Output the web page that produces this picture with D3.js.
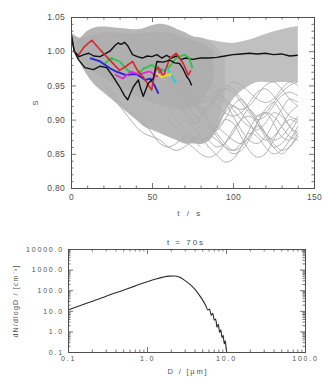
<!DOCTYPE html>
<html>
<head>
<meta charset="utf-8">
<script src="https://cdn.jsdelivr.net/npm/d3@7"></script>
<style>
  html, body { margin: 0; padding: 0; background: #fff; }
  svg { display: block; font-family: "Liberation Sans", Arial, sans-serif; }
</style>
</head>
<body>
<svg id="chart" width="322" height="378"></svg>
<script>
// ---------- top panel: saturation S vs time ----------
// dense cloud of ensemble trajectories (outer envelope)
const coreT = [0, 5, 10, 15, 20, 25, 30, 35, 40, 45, 50, 55, 60, 65, 70, 75, 80, 85, 90, 95];
const coreUpper = [1.028, 1.02, 1.03, 1.035, 1.036, 1.035, 1.034, 1.033, 1.032, 1.034, 1.038, 1.04, 1.038, 1.033, 1.028, 1.022, 1.02, 1.015, 1.005, 0.99];
const coreLower = [1.02, 0.985, 0.965, 0.95, 0.94, 0.93, 0.92, 0.91, 0.9, 0.89, 0.885, 0.88, 0.875, 0.87, 0.865, 0.865, 0.865, 0.87, 0.89, 0.94];
// darker inner band where most trajectories overlap
const innerT = [3, 10, 20, 30, 40, 50, 60, 70, 80, 88];
const innerUpper = [1.015, 1.022, 1.027, 1.027, 1.026, 1.028, 1.027, 1.02, 1.012, 1.0];
const innerLower = [1.0, 0.978, 0.962, 0.948, 0.935, 0.925, 0.918, 0.915, 0.925, 0.96];
// looser tail after ~80 s
const tailT = [80, 85, 90, 95, 100, 105, 110, 115, 120, 125, 130, 135, 140];
const tailUpper = [1.02, 1.017, 1.015, 1.013, 1.012, 1.014, 1.017, 1.021, 1.025, 1.029, 1.032, 1.035, 1.037];
const tailLower = [0.865, 0.87, 0.885, 0.91, 0.93, 0.942, 0.95, 0.955, 0.955, 0.955, 0.955, 0.955, 0.955];

const earlyT = [20, 25, 30, 35, 40, 45, 50, 55, 60, 65, 70, 75, 80];
const earlyA = [0.95, 0.935, 0.92, 0.905, 0.89, 0.88, 0.875, 0.87, 0.86, 0.855, 0.86, 0.87, 0.88];
const earlyB = [0.955, 0.94, 0.925, 0.915, 0.905, 0.895, 0.88, 0.865, 0.86, 0.865, 0.875, 0.87, 0.86];

const wispT = [60, 65, 70, 75, 80, 85, 90, 95, 100, 105, 110, 115, 120, 125, 130, 135, 140];
const wispA = [0.92, 0.91, 0.9, 0.89, 0.875, 0.86, 0.848, 0.838, 0.842, 0.86, 0.885, 0.905, 0.91, 0.895, 0.875, 0.87, 0.885];
const wispB = [0.94, 0.93, 0.915, 0.9, 0.885, 0.87, 0.86, 0.865, 0.88, 0.9, 0.915, 0.9, 0.88, 0.86, 0.85, 0.86, 0.88];
const wispC = [0.95, 0.94, 0.93, 0.91, 0.9, 0.89, 0.885, 0.9, 0.92, 0.93, 0.915, 0.895, 0.875, 0.86, 0.865, 0.88, 0.9];
const wispD = [0.9, 0.89, 0.88, 0.87, 0.865, 0.87, 0.885, 0.9, 0.895, 0.875, 0.855, 0.845, 0.85, 0.87, 0.89, 0.9, 0.895];
const wispE = [0.96, 0.955, 0.945, 0.93, 0.915, 0.9, 0.89, 0.88, 0.87, 0.865, 0.875, 0.895, 0.915, 0.925, 0.91, 0.89, 0.875];
const wispF = [0.93, 0.92, 0.905, 0.895, 0.9, 0.915, 0.93, 0.925, 0.905, 0.885, 0.87, 0.865, 0.875, 0.895, 0.915, 0.93, 0.925];
const wispG = [0.95, 0.945, 0.935, 0.925, 0.915, 0.92, 0.935, 0.945, 0.94, 0.925, 0.91, 0.9, 0.905, 0.92, 0.935, 0.94, 0.935];
const wispH = [0.97, 0.965, 0.955, 0.95, 0.94, 0.93, 0.92, 0.91, 0.905, 0.91, 0.925, 0.94, 0.945, 0.935, 0.92, 0.905, 0.9];
const wispI = [0.915, 0.9, 0.885, 0.875, 0.87, 0.875, 0.89, 0.91, 0.92, 0.91, 0.895, 0.88, 0.87, 0.875, 0.89, 0.91, 0.92];
const wispJ = [0.96, 0.95, 0.94, 0.925, 0.91, 0.895, 0.875, 0.86, 0.85, 0.855, 0.87, 0.89, 0.88, 0.865, 0.855, 0.86, 0.875];
const wispK = [0.98, 0.975, 0.97, 0.96, 0.955, 0.945, 0.94, 0.945, 0.955, 0.95, 0.94, 0.93, 0.925, 0.93, 0.945, 0.955, 0.95];
const wispL = [0.94, 0.925, 0.91, 0.9, 0.905, 0.92, 0.935, 0.93, 0.915, 0.9, 0.89, 0.885, 0.895, 0.91, 0.905, 0.89, 0.88];
const wispM = [0.97, 0.96, 0.95, 0.935, 0.92, 0.9, 0.88, 0.865, 0.855, 0.86, 0.875, 0.895, 0.91, 0.905, 0.89, 0.875, 0.87];
const wispN = [0.9, 0.885, 0.87, 0.86, 0.85, 0.845, 0.85, 0.865, 0.885, 0.9, 0.905, 0.895, 0.88, 0.87, 0.875, 0.89, 0.905];
const wispO = [0.99, 0.985, 0.98, 0.975, 0.965, 0.955, 0.945, 0.93, 0.92, 0.915, 0.92, 0.935, 0.95, 0.955, 0.945, 0.93, 0.92];
const wispP = [0.96, 0.95, 0.94, 0.93, 0.925, 0.93, 0.94, 0.95, 0.945, 0.93, 0.915, 0.905, 0.91, 0.925, 0.94, 0.95, 0.955];
const wispQ = [0.95, 0.94, 0.925, 0.91, 0.895, 0.88, 0.87, 0.86, 0.855, 0.865, 0.88, 0.875, 0.86, 0.85, 0.855, 0.87, 0.89];
const wisps = [wispA, wispB, wispC, wispD, wispE, wispF, wispG, wispH, wispI, wispJ, wispK, wispL, wispM, wispN, wispO, wispP, wispQ];

// highlighted trajectories, [t, S]
const blackLong = [[0, 1.027], [2, 1.0], [5, 0.992], [8, 0.995], [11, 0.997], [14, 0.993], [18, 0.992], [21, 0.996], [24, 1.0], [27, 1.008], [29, 1.012], [31, 1.01], [33, 1.013], [35, 1.008], [38, 0.995], [41, 0.992], [44, 0.99], [47, 0.993], [50, 0.992], [53, 0.995], [56, 0.99], [59, 0.994], [62, 0.99], [65, 0.993], [68, 0.988], [71, 0.99], [75, 0.988], [80, 0.99], [85, 0.99], [90, 0.991], [95, 0.993], [100, 0.995], [105, 0.996], [110, 0.997], [115, 0.996], [120, 0.997], [125, 0.995], [130, 0.996], [135, 0.993], [140, 0.994]];
const blackShort = [[0, 1.025], [2, 1.0], [4.5, 0.988], [8.6, 0.976], [13.8, 0.973], [18, 0.978], [22, 0.976], [26, 0.963], [30, 0.948], [33, 0.935], [35, 0.929], [37, 0.94], [38.5, 0.948], [41.6, 0.958], [43, 0.945], [44.6, 0.934], [47.7, 0.953], [50.8, 0.96], [53, 0.985], [57, 0.984], [61, 0.987], [64, 0.983], [67, 0.982], [69, 0.975], [71.4, 0.963], [73, 0.958], [74.5, 0.95]];
const redLine = [[4.5, 0.994], [8, 1.006], [12.8, 1.016], [18, 1.002], [24, 0.987], [30, 0.972], [34, 0.978], [38, 0.985], [41, 0.972], [44.6, 0.962], [49.8, 0.943], [51.8, 0.97], [53.7, 0.977], [57, 0.963], [61, 0.99], [65, 0.997], [69.3, 0.982], [72.4, 0.965], [74, 0.972]];
const greenLine = [[20, 0.98], [25, 0.99], [30, 0.985], [35, 0.972], [40, 0.965], [45, 0.975], [50, 0.98], [55, 0.97], [60, 0.975], [65, 0.99], [70, 0.995], [73, 0.99], [75, 0.975]];
const blueLine = [[11.7, 0.99], [18, 0.985], [24, 0.975], [28, 0.97], [34, 0.965], [40, 0.967], [46, 0.958], [49, 0.96], [52, 0.948], [54, 0.938]];
const magentaLine = [[27, 0.966], [32, 0.96], [37, 0.97], [42, 0.966], [48, 0.97], [49, 0.97], [53, 0.963], [56, 0.975]];
const cyanLine = [[59, 0.975], [61, 0.97], [62, 0.965], [64, 0.955], [65, 0.958]];
const yellowLine = [[53, 0.968], [56, 0.962], [59, 0.965], [61, 0.965], [62, 0.968]];

const topXTicks = [0, 50, 100, 150];
const topXMinor = [10, 20, 30, 40, 60, 70, 80, 90, 110, 120, 130, 140];
const topYTicks = [0.80, 0.85, 0.90, 0.95, 1.00, 1.05];
const topYMinor = [0.81, 0.82, 0.83, 0.84, 0.86, 0.87, 0.88, 0.89, 0.91, 0.92, 0.93, 0.94, 0.96, 0.97, 0.98, 0.99, 1.01, 1.02, 1.03, 1.04];

// ---------- bottom panel: size distribution at t = 70 s ----------
const sizeD = [0.1, 0.2, 0.3, 0.5, 0.7, 1.0, 1.3, 1.6, 1.9, 2.2, 2.6, 3.0, 3.5, 4.0, 4.5, 5.0, 5.5, 5.9, 6.2, 6.5, 6.8, 7.1, 7.4, 7.7, 8.0, 8.3, 8.6, 8.9, 9.2, 9.5, 9.8, 10.1, 10.3];
const sizeN = [11, 28, 50, 100, 158, 255, 350, 430, 480, 490, 420, 300, 190, 115, 65, 36, 19, 11, 12, 6, 7.5, 3.5, 4, 1.6, 2.2, 0.9, 1.2, 0.5, 0.65, 0.25, 0.35, 0.12, 0.1];
const sizeXTicks = [0.1, 1, 10, 100];
const sizeXMinor = [0.2, 0.3, 0.4, 0.5, 0.6, 0.7, 0.8, 0.9, 2, 3, 4, 5, 6, 7, 8, 9, 20, 30, 40, 50, 60, 70, 80, 90];
const sizeYTicks = [0.1, 1, 10, 100, 1000, 10000];
const sizeYMinor = [0.2, 0.3, 0.4, 0.5, 0.6, 0.7, 0.8, 0.9, 2, 3, 4, 5, 6, 7, 8, 9, 20, 30, 40, 50, 60, 70, 80, 90, 200, 300, 400, 500, 600, 700, 800, 900, 2000, 3000, 4000, 5000, 6000, 7000, 8000, 9000];

const ink = "#505050";
const svg = d3.select("#chart");

function drawFrame(g, x, y, o) {
  const [x0, x1] = x.range();
  const [y0, y1] = y.range();
  const styleAxis = (sel) => {
    sel.select(".domain").attr("stroke", ink).attr("stroke-width", 1);
    sel.selectAll("line").attr("stroke", ink).attr("stroke-width", 0.8);
    sel.selectAll("text").attr("fill", ink).style("font-size", o.fontSize + "px").style("letter-spacing", o.spacing + "px");
  };
  // bottom + left with labels
  g.append("g").attr("transform", `translate(0,${y0})`)
    .call(d3.axisBottom(x).tickValues(o.xTicks).tickSize(-5).tickPadding(o.xPad).tickFormat(o.xFmt)).call(styleAxis);
  g.append("g").attr("transform", `translate(0,${y0})`)
    .call(d3.axisBottom(x).tickValues(o.xMinor).tickSize(-2.5).tickFormat("")).call(styleAxis);
  g.append("g").attr("transform", `translate(${x0},0)`)
    .call(d3.axisLeft(y).tickValues(o.yTicks).tickSize(-5).tickPadding(o.yPad).tickFormat(o.yFmt)).call(styleAxis);
  g.append("g").attr("transform", `translate(${x0},0)`)
    .call(d3.axisLeft(y).tickValues(o.yMinor).tickSize(-2.5).tickFormat("")).call(styleAxis);
  // top + right, ticks only
  g.append("g").attr("transform", `translate(0,${y1})`)
    .call(d3.axisTop(x).tickValues(o.xTicks).tickSize(-5).tickFormat("")).call(styleAxis);
  g.append("g").attr("transform", `translate(0,${y1})`)
    .call(d3.axisTop(x).tickValues(o.xMinor).tickSize(-2.5).tickFormat("")).call(styleAxis);
  g.append("g").attr("transform", `translate(${x1},0)`)
    .call(d3.axisRight(y).tickValues(o.yTicks).tickSize(-5).tickFormat("")).call(styleAxis);
  g.append("g").attr("transform", `translate(${x1},0)`)
    .call(d3.axisRight(y).tickValues(o.yMinor).tickSize(-2.5).tickFormat("")).call(styleAxis);
}

// ---- top panel ----
const xT = d3.scaleLinear().domain([0, 150]).range([71, 314]);
const yT = d3.scaleLinear().domain([0.80, 1.05]).range([188, 17]);
const topPanel = svg.append("g");
svg.append("clipPath").attr("id", "topClip").append("rect")
  .attr("x", 71).attr("y", 17).attr("width", 243).attr("height", 171);
const topPlot = topPanel.append("g").attr("clip-path", "url(#topClip)");

const band = d3.area().x((d) => xT(d.t)).y0((d) => yT(d.lo)).y1((d) => yT(d.hi)).curve(d3.curveCatmullRom);
const bands = [
  { t: tailT, hi: tailUpper, lo: tailLower, fill: "#c0c0c0" },
  { t: coreT, hi: coreUpper, lo: coreLower, fill: "#b6b6b6" },
  { t: innerT, hi: innerUpper, lo: innerLower, fill: "#afafaf" },
];
topPlot.selectAll("path.band")
  .data(bands)
  .join("path")
  .attr("class", "band")
  .attr("fill", (b) => b.fill)
  .attr("d", (b) => band(b.t.map((t, i) => ({ t, hi: b.hi[i], lo: b.lo[i] }))));

const wispLine = d3.line().x((d) => xT(d[0])).y((d) => yT(d[1])).curve(d3.curveCatmullRom);
const grayTracks = [
  ...[earlyA, earlyB].map((vals) => vals.map((v, i) => [earlyT[i], v])),
  ...wisps.map((vals) => vals.map((v, i) => [wispT[i], v])),
];
topPlot.selectAll("path.wisp")
  .data(grayTracks)
  .join("path")
  .attr("class", "wisp")
  .attr("fill", "none")
  .attr("stroke", "#ababab")
  .attr("stroke-width", 0.9)
  .attr("d", wispLine);

const traj = [
  { pts: blackLong, color: "#111", w: 1.4 },
  { pts: greenLine, color: "#2ec24a", w: 1.8 },
  { pts: blueLine, color: "#2222e0", w: 1.8 },
  { pts: magentaLine, color: "#e02ad8", w: 1.8 },
  { pts: redLine, color: "#d8262a", w: 1.6 },
  { pts: cyanLine, color: "#22d0d8", w: 1.8 },
  { pts: yellowLine, color: "#e8e020", w: 2 },
  { pts: blackShort, color: "#111", w: 1.4 },
];
const trajLine = d3.line().x((d) => xT(d[0])).y((d) => yT(d[1]));
topPlot.selectAll("path.traj")
  .data(traj)
  .join("path")
  .attr("class", "traj")
  .attr("fill", "none")
  .attr("stroke", (d) => d.color)
  .attr("stroke-width", (d) => d.w)
  .attr("stroke-linejoin", "round")
  .attr("d", (d) => trajLine(d.pts));

drawFrame(topPanel, xT, yT, {
  xTicks: topXTicks, xMinor: topXMinor, yTicks: topYTicks, yMinor: topYMinor,
  xFmt: d3.format("d"), yFmt: d3.format(".2f"), xPad: 6, yPad: 6, fontSize: 8.5, spacing: 0.3,
});

topPanel.append("text").attr("x", 190).attr("y", 216).attr("text-anchor", "middle")
  .attr("fill", ink).style("font-size", "8px").style("letter-spacing", "2.5px").text("t / s");
topPanel.append("text").attr("transform", "translate(38,103) rotate(-90)").attr("text-anchor", "middle")
  .attr("fill", ink).style("font-size", "8px").text("S");

// ---- bottom panel ----
const xB = d3.scaleLog().domain([0.1, 100]).range([68, 305]);
const yB = d3.scaleLog().domain([0.1, 10000]).range([352, 249]);
const bottomPanel = svg.append("g");

bottomPanel.append("path")
  .datum(sizeD.map((d, i) => [d, sizeN[i]]))
  .attr("fill", "none")
  .attr("stroke", "#2a2a2a")
  .attr("stroke-width", 1.1)
  .attr("d", d3.line().x((d) => xB(d[0])).y((d) => yB(d[1])).curve(d3.curveMonotoneX));

drawFrame(bottomPanel, xB, yB, {
  xTicks: sizeXTicks, xMinor: sizeXMinor, yTicks: sizeYTicks, yMinor: sizeYMinor,
  xFmt: d3.format(".1f"), yFmt: d3.format(".1f"), xPad: 4, yPad: 4, fontSize: 7, spacing: 1.8,
});

bottomPanel.append("text").attr("x", 186).attr("y", 245).attr("text-anchor", "middle")
  .attr("fill", ink).style("font-size", "8px").style("letter-spacing", "2px").text("t = 70s");
bottomPanel.append("text").attr("x", 188).attr("y", 374).attr("text-anchor", "middle")
  .attr("fill", ink).style("font-size", "7.5px").style("letter-spacing", "1.8px").text("D / [µm]");
bottomPanel.append("text").attr("transform", "translate(18,301) rotate(-90)").attr("text-anchor", "middle")
  .attr("fill", ink).style("font-size", "7px").style("letter-spacing", "1.2px").text("dN/dlogD / [cm⁻³]");
</script>
</body>
</html>
